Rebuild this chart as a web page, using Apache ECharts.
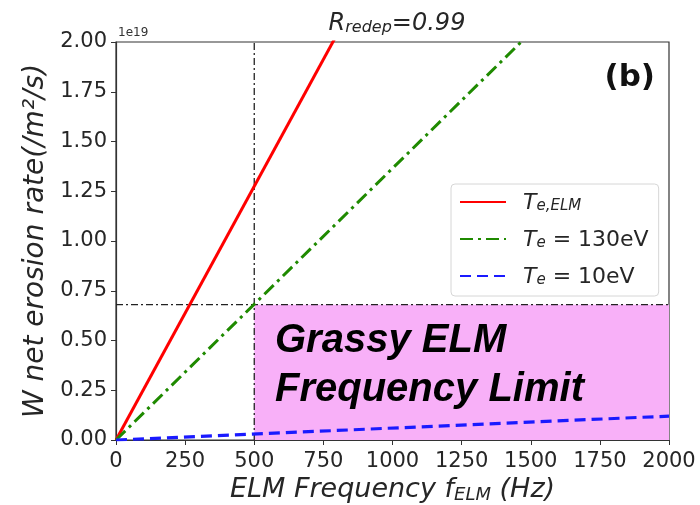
<!DOCTYPE html>
<html>
<head>
<meta charset="utf-8">
<script src="https://cdn.jsdelivr.net/npm/echarts@6/dist/echarts.min.js"></script>
<style>
  html, body { margin: 0; padding: 0; background: #fff; }
  #chart { width: 700px; height: 505px; }
</style>
</head>
<body>
<div id="chart"></div>
<script>
// ELM frequency (Hz) at the ends of each straight line
const freq = [0, 2000];
// W net erosion rate, in units of 1e19 /m^2/s
const rateTeElm = [0, 5.10];
const rate130eV = [0, 2.73];
const rate10eV = [0, 0.12];
// Grassy ELM frequency limit and corresponding erosion threshold
const limitFreq = 500;
const limitRate = 0.68;
const xTicks = [0, 250, 500, 750, 1000, 1250, 1500, 1750, 2000];
const yTicks = [0, 0.25, 0.5, 0.75, 1.0, 1.25, 1.5, 1.75, 2.0];

const pairs = (xs, ys) => xs.map((x, i) => [x, ys[i]]);
const FONT = 'DejaVu Sans';
const INK = '#262626';

const chart = echarts.init(document.getElementById('chart'), null, { renderer: 'canvas' });

chart.setOption({
  animation: false,
  title: {
    text: '{a|R}{s|redep}{a|=0.99}',
    left: 392, textAlign: 'center', top: 1,
    textStyle: {
      fontWeight: 'normal',
      rich: {
        a: { fontFamily: FONT, fontStyle: 'italic', fontWeight: 'normal', fontSize: 24, color: INK, verticalAlign: 'bottom', lineHeight: 30 },
        s: { fontFamily: FONT, fontStyle: 'italic', fontWeight: 'normal', fontSize: 16, color: INK, verticalAlign: 'bottom', lineHeight: 21 }
      }
    }
  },
  grid: {
    left: 116, right: 31, top: 42, bottom: 65,
    outerBoundsMode: 'none', containLabel: false,
    show: true, borderColor: '#333', borderWidth: 1.2
  },
  legend: {
    orient: 'vertical',
    left: 451, top: 184,
    itemWidth: 46, itemHeight: 10, itemGap: 15,
    padding: [8, 10, 8, 8],
    borderColor: '#d6d6d6', borderWidth: 1, borderRadius: 4,
    backgroundColor: '#fff',
    itemStyle: { opacity: 0 },
    data: ['Te,ELM', 'Te130', 'Te10'],
    formatter: function (n) {
      if (n === 'Te,ELM') return '{t|T}{s|e,ELM}';
      if (n === 'Te130') return '{t|T}{s|e}{n| = 130eV}';
      return '{t|T}{s|e}{n| = 10eV}';
    },
    textStyle: {
      padding: [0, 0, 0, 12],
      rich: {
        t: { fontFamily: FONT, fontStyle: 'italic', fontSize: 22, color: INK, lineHeight: 24, verticalAlign: 'bottom' },
        s: { fontFamily: FONT, fontStyle: 'italic', fontSize: 15, color: INK, lineHeight: 16, verticalAlign: 'bottom' },
        n: { fontFamily: FONT, fontSize: 22, color: INK, lineHeight: 24, verticalAlign: 'bottom' }
      }
    }
  },
  xAxis: {
    type: 'value', min: 0, max: 2000, interval: 250,
    name: '{a|ELM Frequency f}{s|ELM}{a| (Hz)}',
    nameLocation: 'middle', nameGap: 32,
    nameTextStyle: {
      rich: {
        a: { fontFamily: FONT, fontStyle: 'italic', fontSize: 27, color: INK, verticalAlign: 'bottom', lineHeight: 31 },
        s: { fontFamily: FONT, fontStyle: 'italic', fontSize: 18, color: INK, verticalAlign: 'bottom', lineHeight: 22 }
      }
    },
    axisLine: { show: true, lineStyle: { color: '#333', width: 1.2 } },
    axisTick: { show: true, length: 5, lineStyle: { color: '#333' } },
    axisLabel: { fontFamily: FONT, fontSize: 21, color: INK, margin: 11,
      customValues: xTicks, formatter: v => String(v) },
    splitLine: { show: false }
  },
  yAxis: {
    type: 'value', min: 0, max: 2, interval: 0.25,
    name: 'W net erosion rate(/m²/s)',
    nameLocation: 'middle', nameGap: 64,
    nameTextStyle: { fontFamily: FONT, fontStyle: 'italic', fontSize: 28, color: INK },
    axisLine: { show: true, lineStyle: { color: '#333', width: 1.2 } },
    axisTick: { show: true, length: 5, lineStyle: { color: '#333' } },
    axisLabel: { fontFamily: FONT, fontSize: 21, color: INK, margin: 9,
      customValues: yTicks, formatter: v => v.toFixed(2) },
    splitLine: { show: false }
  },
  graphic: [
    { type: 'text', left: 118, top: 27, style: { text: '1e19', font: '12px "DejaVu Sans"', fill: '#333' } },
    { type: 'text', right: 45, top: 62, style: { text: '(b)', font: 'bold 31px "DejaVu Sans"', fill: '#111' } },
    { type: 'text', left: 275, top: 321, z: 20, style: { text: 'Grassy ELM', font: 'italic bold 40px "Liberation Sans"', fill: '#000' } },
    { type: 'text', left: 275, top: 370, z: 20, style: { text: 'Frequency Limit', font: 'italic bold 40px "Liberation Sans"', fill: '#000' } }
  ],
  series: [
    {
      name: 'limit', type: 'line', silent: true, symbol: 'none', z: 1,
      data: pairs([limitFreq, limitFreq], [0, 2]),
      lineStyle: { color: '#222', width: 1.3, type: [7, 3, 2, 3] },
      markArea: {
        silent: true,
        itemStyle: { color: '#f8b0f8' },
        data: [[{ coord: [limitFreq, 0] }, { coord: [2000, limitRate] }]]
      }
    },
    {
      name: 'threshold', type: 'line', silent: true, symbol: 'none', z: 1,
      data: pairs([0, 2000], [limitRate, limitRate]),
      lineStyle: { color: '#222', width: 1.3, type: [7, 3, 2, 3] }
    },
    {
      name: 'Te,ELM', type: 'line', symbol: 'none', clip: true, z: 5,
      data: pairs(freq, rateTeElm),
      itemStyle: { color: '#ff0000' },
      lineStyle: { color: '#ff0000', width: 3 }
    },
    {
      name: 'Te130', type: 'line', symbol: 'none', clip: true, z: 5,
      data: pairs(freq, rate130eV),
      itemStyle: { color: '#1f8a00' },
      lineStyle: { color: '#1f8a00', width: 3, type: [13, 5, 3, 5] }
    },
    {
      name: 'Te10', type: 'line', symbol: 'none', clip: true, z: 5,
      data: pairs(freq, rate10eV),
      itemStyle: { color: '#1a1aff' },
      lineStyle: { color: '#1a1aff', width: 3.2, type: [11, 6] }
    }
  ]
});
</script>
</body>
</html>
